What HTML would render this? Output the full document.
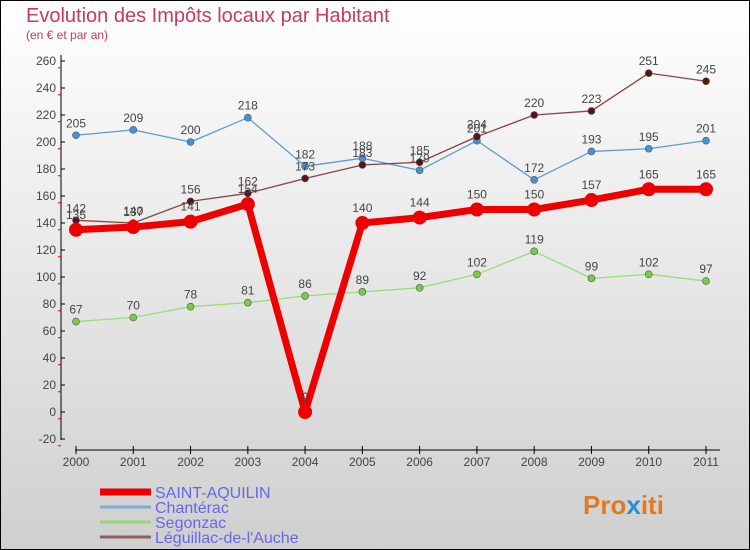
<!DOCTYPE html>
<html><head><meta charset="utf-8"><style>
body{margin:0;width:750px;height:550px;overflow:hidden;font-family:"Liberation Sans",sans-serif}
svg{display:block}
</style></head><body>
<svg id="chart" width="750" height="550">
<defs><linearGradient id="bg" x1="0" y1="0" x2="0" y2="1"><stop offset="0" stop-color="#ffffff"/><stop offset="1" stop-color="#cfcfcf"/></linearGradient></defs>
<rect x="0.5" y="0.5" width="749" height="549" fill="url(#bg)" stroke="#000"/>
<text x="26" y="22" font-size="20" fill="#c8385f">Evolution des Impôts locaux par Habitant</text>
<text x="26" y="39" font-size="12" fill="#c8385f">(en € et par an)</text>
<g id="axes"></g><g id="series"></g><g id="legend"></g>
<text x="583" y="514" font-size="26" font-weight="bold" fill="#e07a1f">Pro<tspan fill="#2a8fd6">x</tspan>iti</text>
</svg>
<script>
const years=["2000","2001","2002","2003","2004","2005","2006","2007","2008","2009","2010","2011"];
const yTicks=[-20,0,20,40,60,80,100,120,140,160,180,200,220,240,260];
const saintAquilin=[135,137,141,154,0,140,144,150,150,157,165,165];
const chanterac=[205,209,200,218,182,188,179,201,172,193,195,201];
const segonzac=[67,70,78,81,86,89,92,102,119,99,102,97];
const leguillac=[142,140,156,162,173,183,185,204,220,223,251,245];
const NS="http://www.w3.org/2000/svg";
const xS=i=>76+i*(630/11);
const yS=v=>412-v*1.35;
function mk(tag,attrs,parent,txt){const e=document.createElementNS(NS,tag);for(const k in attrs)e.setAttribute(k,attrs[k]);if(txt!==undefined)e.textContent=txt;parent.appendChild(e);return e;}
const ax=document.getElementById('axes');
let e=mk('line',{x1:61,y1:55,x2:61,y2:440,stroke:'#000'},ax);


e=mk('line',{x1:75,y1:450,x2:720,y2:450,stroke:'#000'},ax);


yTicks.forEach(t=>{const y=yS(t);
 mk('line',{x1:61,y1:y,x2:65,y2:y,stroke:'#000'},ax);
 mk('line',{x1:58,y1:y+6.75,x2:61,y2:y+6.75,stroke:'#e00'},ax);
 const l=mk('text',{x:56,y:y+4,'font-size':12,fill:'#444','text-anchor':'end'},ax,String(t));
 
 
});
years.forEach((yr,i)=>{const x=xS(i);
 mk('line',{x1:x,y1:446,x2:x,y2:454,stroke:'#000'},ax);
 const l=mk('text',{x:x,y:466,'font-size':12,fill:'#444','text-anchor':'middle'},ax,yr);
 
 
});
const sg=document.getElementById('series');
const series=[
 {name:'Chantérac',data:chanterac,color:'#5b9bd5',w:1.3,r:3.5,fill:'#4a90d9'},
 {name:'Segonzac',data:segonzac,color:'#99dd77',w:1.3,r:3.5,fill:'#77cc44'},
 {name:'Léguillac-de-l\'Auche',data:leguillac,color:'#8b4444',w:1.3,r:3.5,fill:'#5a1414'},
 {name:'SAINT-AQUILIN',data:saintAquilin,color:'#ee0000',w:7,r:7,fill:'#ee0000'}
];
series.forEach(s=>{
 const g=mk('g',{},sg);
 
 
 const pts=s.data.map((v,i)=>xS(i)+','+yS(v)).join(' ');
 const pl=mk('polyline',{points:pts,fill:'none',stroke:s.color,'stroke-width':s.w,'stroke-linejoin':'round'},g);
 
 
 s.data.forEach((v,i)=>{
  const c=mk('circle',{cx:xS(i),cy:yS(v),r:s.r,fill:s.fill,stroke:'#555','stroke-width':s.r>5?0:0.6},g);
  
  
  const t=mk('text',{x:xS(i),y:yS(v)-(s.r>5?11:8),'font-size':12,fill:'#444','text-anchor':'middle'},g,String(v));
  
  
 });
});
const lg=document.getElementById('legend');
const leg=[['SAINT-AQUILIN','#ee0000',7],['Chantérac','#7aaed6',3],['Segonzac','#99d47a',3],['Léguillac-de-l\'Auche','#8b6060',3]];
leg.forEach((L,i)=>{const y=492+i*15;
 const g=mk('g',{},lg);
 
 
 mk('line',{x1:100,y1:y,x2:151,y2:y,stroke:L[1],'stroke-width':L[2]},g);
 mk('text',{x:155,y:y+6,'font-size':16,fill:'#6666ee'},g,L[0]);
});
</script>
</body></html>
